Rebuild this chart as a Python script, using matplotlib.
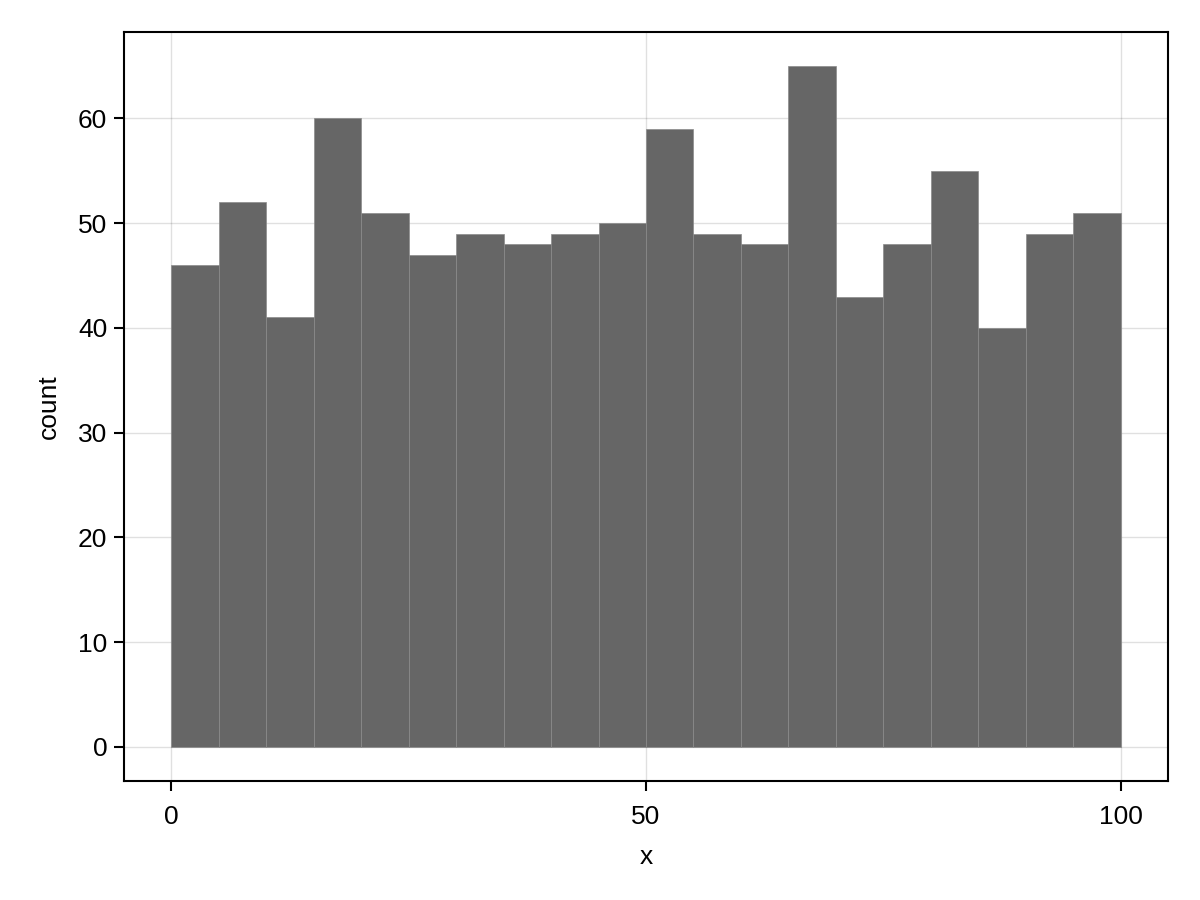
import numpy as np
import matplotlib
matplotlib.use("Agg")
import matplotlib.pyplot as plt

plt.rcParams['font.family'] = ['Liberation Sans', 'DejaVu Sans']

# межі бінів і кількості
bin_edges = list(range(0, 105, 5))
counts = [46, 52, 41, 60, 51, 47, 49, 48, 49, 50,
          59, 49, 48, 65, 43, 48, 55, 40, 49, 51]
x_ticks = [0, 50, 100]
y_ticks = [0, 10, 20, 30, 40, 50, 60]

fig = plt.figure(figsize=(12, 9), dpi=100)
ax = fig.add_axes([124 / 1200, 1 - 781 / 900, (1168 - 124) / 1200, (781 - 32) / 900])

lefts = np.array(bin_edges[:-1])
widths = np.diff(bin_edges)
ax.bar(lefts, counts, width=widths, align='edge', color='#666666',
       edgecolor='#8a8a8a', linewidth=0.5, zorder=2)

ax.set_xlim(-5, 105)
ax.set_ylim(-3.25, 68.25)
ax.set_xticks(x_ticks)
ax.set_yticks(y_ticks)
ax.grid(True, color='#000000', alpha=0.12, linewidth=1, zorder=0)
ax.set_axisbelow(True)

for s in ax.spines.values():
    s.set_linewidth(1.5)
    s.set_color('black')
ax.tick_params(direction='out', length=7, width=1.5, labelsize=19, pad=5)
ax.tick_params(axis='x', pad=10)

ax.set_xlabel('x', fontsize=19, labelpad=12)
ax.set_ylabel('count', fontsize=19, labelpad=12)

fig.savefig('out.png', dpi=100)
